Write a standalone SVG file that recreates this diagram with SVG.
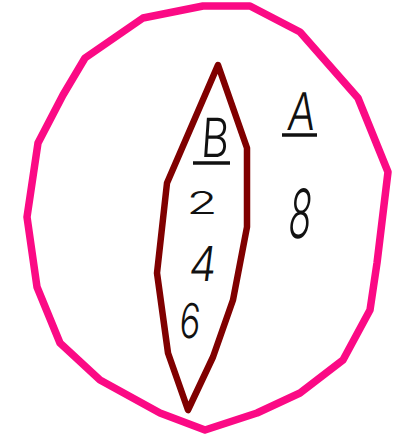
<svg xmlns="http://www.w3.org/2000/svg" width="403" height="442" viewBox="0 0 403 442">
<style>
.outer{fill:none;stroke:#fb0a85;stroke-width:7.5;stroke-linejoin:round}
.inner{fill:none;stroke:#800000;stroke-width:6.5;stroke-linejoin:round}
.t{font-family:Inter,"Open Sans","DejaVu Sans",sans-serif;font-weight:300;fill:#111;text-anchor:middle}
.u{stroke:#111;stroke-width:3.5}
</style>
<rect width="403" height="442" fill="#ffffff"/>
<g id="setA">
<polygon class="outer" points="203,6 250,6 300,32 358,98 388,172 377,263 370,310 343,360 300,393 257,413 205,430 160,413 100,380 60,343 37,287 27,217 38,143 63,95 85,58 143,18"/>
<text class="t" x="300" y="130" font-size="52" transform="translate(300 130) scale(0.8 1) skewX(-8) translate(-300 -130)">A</text>
<line class="u" x1="282" y1="135" x2="317" y2="135"/>
<text class="t" x="298" y="238" font-size="68" transform="translate(298 238) scale(0.55 1) skewX(-12) translate(-298 -238)">8</text>
</g>
<g id="setB">
<polygon class="inner" points="218,65 247,148 247,227 233,300 213,357 188,410 168,353 157,273 167,183"/>
<text class="t" x="214" y="157" font-size="54" transform="translate(214 157) scale(0.8 1) skewX(-5) translate(-214 -157)">B</text>
<line class="u" x1="193" y1="163" x2="230" y2="163"/>
<text class="t" x="202" y="214" font-size="44" transform="translate(202 214) scale(1.15 0.72) translate(-202 -214)">2</text>
<text class="t" x="201" y="281" font-size="48" transform="translate(201 281) scale(0.9 1) skewX(-8) translate(-201 -281)">4</text>
<text class="t" x="189" y="338" font-size="48" transform="translate(189 338) scale(0.72 1) skewX(-6) translate(-189 -338)">6</text>
</g>
</svg>
